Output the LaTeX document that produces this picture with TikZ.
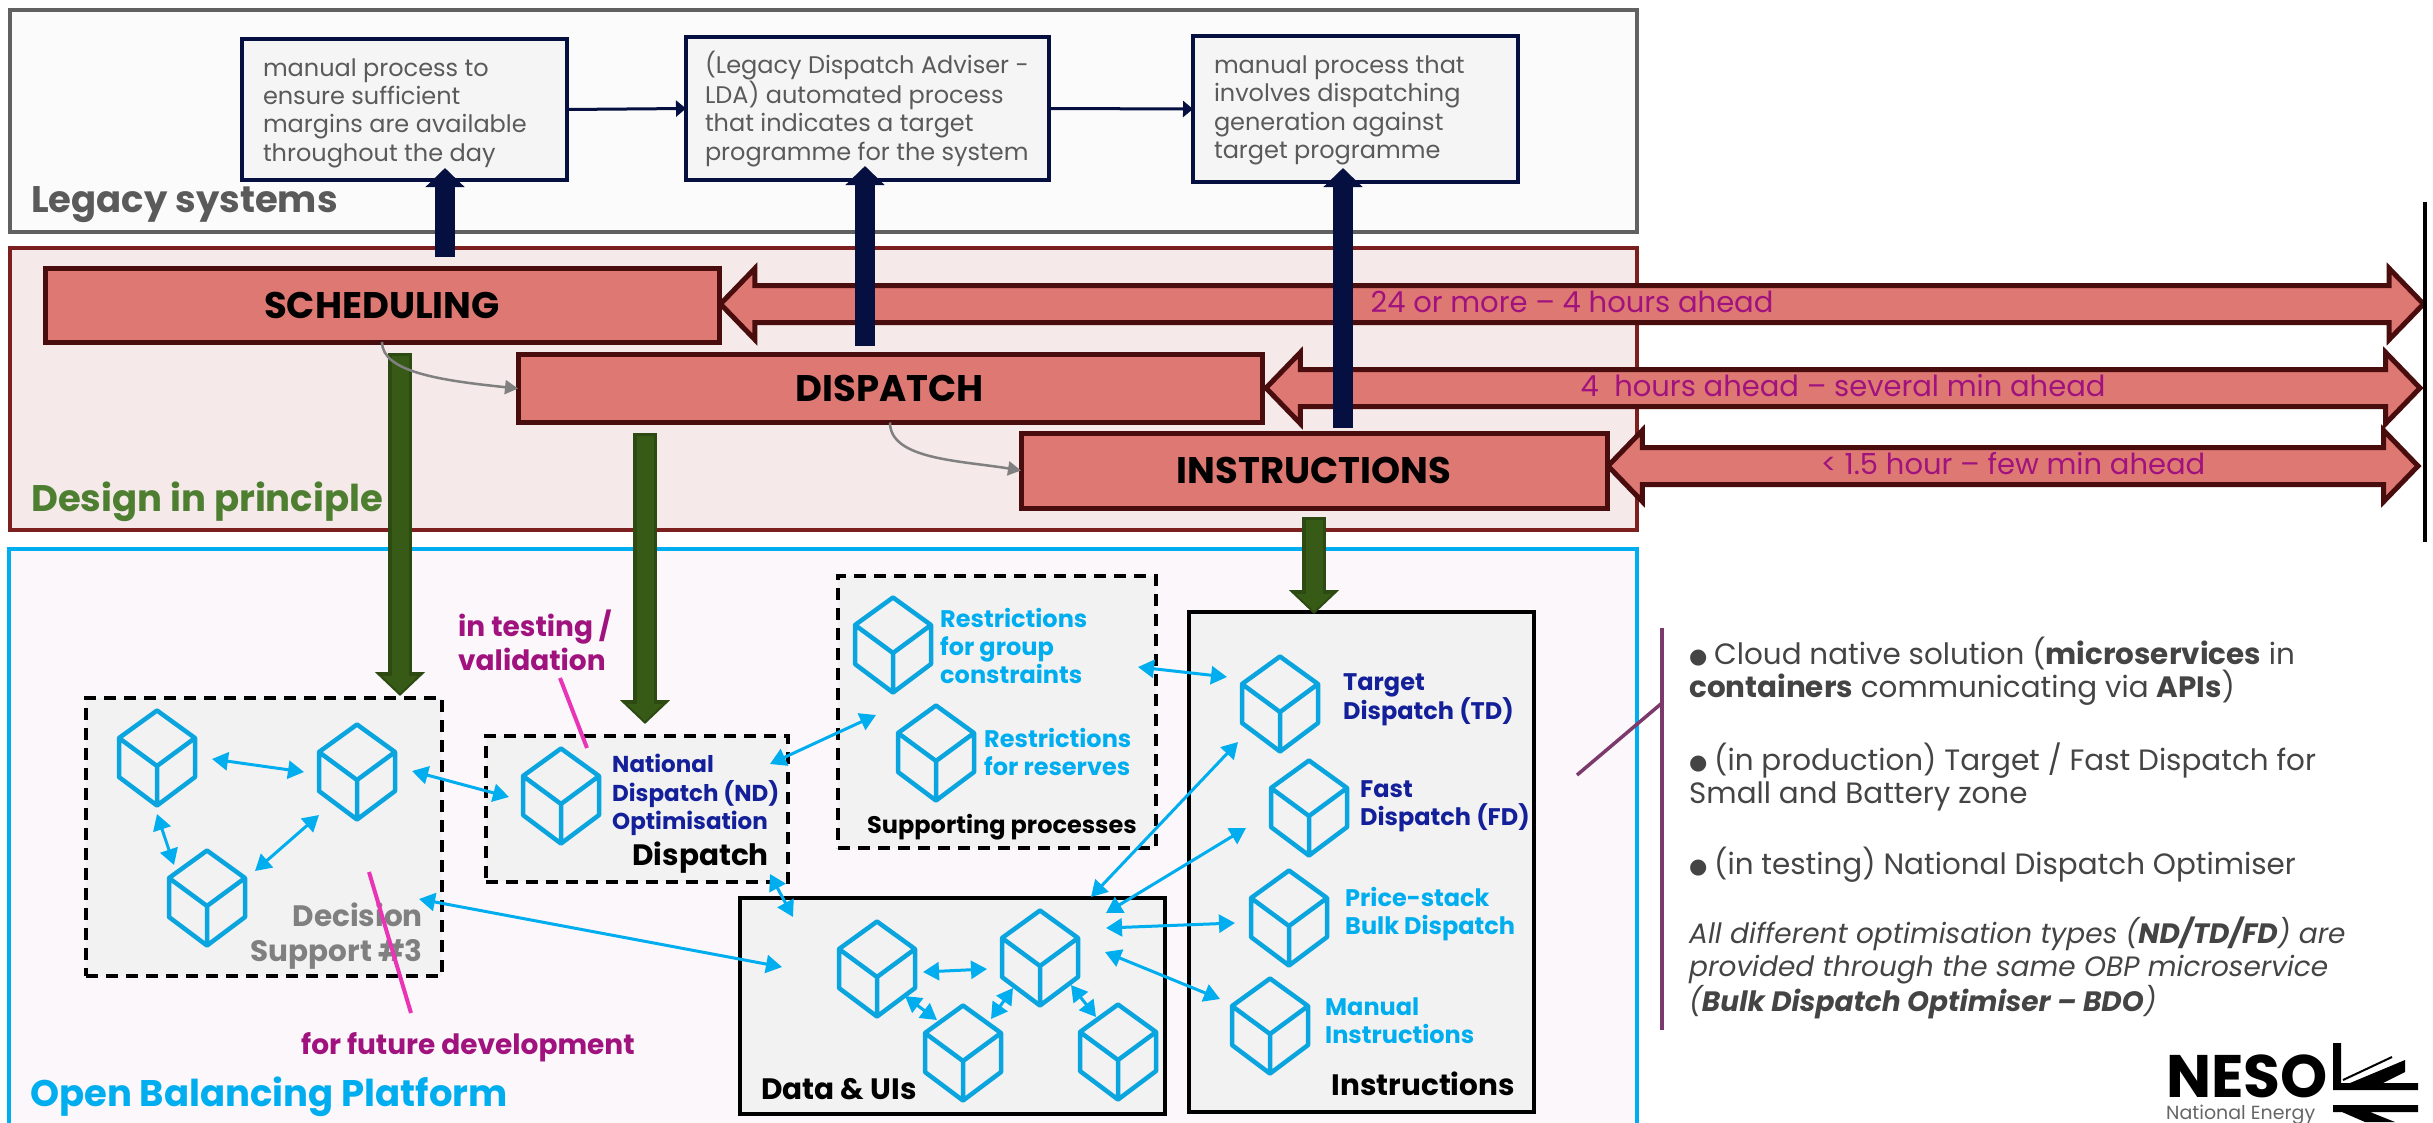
\documentclass[tikz,border=0pt]{standalone}
\usepackage{fontspec}
\setmainfont{Poppins}
\newfontfamily\symfont{DejaVu Sans}
\usetikzlibrary{arrows.meta,shapes.arrows}
\definecolor{navyc}{HTML}{050F40}
\definecolor{greenc}{HTML}{375A16}
\definecolor{greenedge}{HTML}{2C4A12}
\definecolor{redfill}{HTML}{DE7873}
\definecolor{redline}{HTML}{4A0D0D}
\definecolor{framered}{HTML}{7B1F1F}
\definecolor{legacyfill}{HTML}{FBFBFB}
\definecolor{designfill}{HTML}{F5E9E9}
\definecolor{obpfill}{HTML}{FBF7FB}
\definecolor{skyc}{HTML}{00AEEF}
\definecolor{cubec}{HTML}{0AA5DF}
\definecolor{magc}{HTML}{A0127E}
\definecolor{pinkc}{HTML}{E935B5}
\definecolor{deepc}{HTML}{14209A}
\definecolor{plumc}{HTML}{7B3A6B}
\definecolor{textc}{HTML}{444444}
\definecolor{labelc}{HTML}{5A5A5A}
\definecolor{designc}{HTML}{4E7F31}
\newcommand{\dotmark}{\makebox[25pt][l]{\symfont\fontsize{21}{21}\selectfont\raisebox{1pt}{●}}}
\tikzset{
  framebox/.style={draw,line width=4pt,anchor=north west,inner sep=0pt,outer sep=0pt},
  legacybox/.style={draw=navyc,fill=black!4,line width=4pt,anchor=north west,inner sep=0pt,outer sep=0pt,
    text=labelc,align=left,font=\fontsize{24}{28.4}\selectfont},
  planbox/.style={draw=redline,fill=redfill,line width=5pt,inner sep=0pt,outer sep=0pt,
    font=\fontsize{37}{40}\selectfont\bfseries},
  spanarrow/.style={double arrow,draw=redline,fill=redfill,line width=5pt,inner ysep=0pt,inner xsep=0pt,outer sep=0pt,
    minimum width=70pt,double arrow head extend=17pt,double arrow tip angle=92,
    text height=24pt,text depth=8pt,text=magc,font=\fontsize{29}{30}\selectfont},
  groupbox/.style={draw=black,fill=black!5,line width=4.5pt,anchor=north west,inner sep=0pt,outer sep=0pt},
  dashedbox/.style={groupbox,dash pattern=on 12pt off 8pt},
  planflow/.style={draw=navyc,line width=20pt,-{Triangle[length=19pt,width=38pt]}},
  downflow/.style={draw=greenedge,line width=24pt,-{Triangle[length=24pt,width=49pt]},
    postaction={draw=greenc,line width=17pt,-{Triangle[length=17pt,width=35pt]},shorten >=3pt,shorten <=3pt}},
  link/.style={draw=navyc,line width=3pt,-{Triangle[length=10pt,width=16pt]}},
  handoff/.style={draw=black!50,line width=2.5pt,-{Triangle[length=13pt,width=14pt]}},
  apiarrow/.style={draw=skyc,line width=3pt,{Triangle[length=16pt,width=18pt]}-{Triangle[length=16pt,width=18pt]}},
  callout/.style={draw=pinkc,line width=4pt},
  title/.style={anchor=west,inner sep=0pt,font=\fontsize{37}{40}\selectfont\bfseries},
  svc/.style={anchor=west,align=left,inner sep=0pt,font=\fontsize{24}{28.4}\selectfont\bfseries},
  group/.style={inner sep=0pt,font=\fontsize{29.5}{34.5}\selectfont\bfseries},
  remark/.style={inner sep=0pt,anchor=west,align=left,text=magc,font=\fontsize{28}{34}\selectfont\bfseries},
  note/.style={anchor=west,align=left,inner sep=0pt,text=textc,font=\fontsize{29.4}{33}\selectfont},
  cube/.pic={
    \draw[draw=cubec,line width=4.5pt,line join=round]
      (0,-47.5) -- (38,-20) -- (38,19) -- (0,47.5) -- (-38,19) -- (-38,-20) -- cycle
      (-38,-20) -- (0,8) -- (38,-20) (0,8) -- (0,47.5);
  }
}
\begin{document}
\begin{tikzpicture}[x=1pt,y=-1pt]
  \useasboundingbox (0,0) rectangle (2433,1122);

  % frames
  \node[framebox,draw=black!62,fill=legacyfill,minimum width=1627pt,minimum height=222pt] (legacy) at (10,10) {};
  \node[framebox,draw=framered,fill=designfill,minimum width=1627pt,minimum height=282pt] (design) at (10,248) {};
  \node[framebox,draw=skyc,fill=obpfill,minimum width=1628pt,minimum height=600pt] (obp) at (9,549) {};
  \node[title,text=labelc] (legacyname) at (31,205) {Legacy systems};
  \node[title,text=designc] (designname) at (31,502) {Design in principle};
  \node[title,text=skyc] (obpname) at (30,1097) {Open Balancing Platform};

  % legacy process boxes
  \node[legacybox,minimum width=325pt,minimum height=141pt] (manual) at (242,39) {};
  \node[legacybox,minimum width=363pt,minimum height=143pt] (lda) at (686,37) {};
  \node[legacybox,minimum width=325pt,minimum height=146pt] (target) at (1193,36) {};
  \node[legacybox,draw=none,fill=none,anchor=west] (manualtxt) at (263,113) {manual process to\\ensure sufficient\\margins are available\\throughout the day};
  \node[legacybox,draw=none,fill=none,anchor=west] (ldatxt) at (705,109) {(Legacy Dispatch Adviser -\\LDA) automated process\\that indicates a target\\programme for the system};
  \node[legacybox,draw=none,fill=none,anchor=west] (targettxt) at (1214,110.5) {manual process that\\involves dispatching\\generation against\\target programme};
  \draw[link] (manual.east) -- (lda.west);
  \draw[link] (lda.east) -- (target.west);

  % time spans
  \node[spanarrow,minimum height=1703pt] (span1) at (1572,304) {24 or more -- 4 hours ahead};
  \node[spanarrow,minimum height=1154pt] (span2) at (1843,388) {4\ \ hours ahead -- several min ahead};
  \node[spanarrow,minimum height=810pt] (span3) at (2013,466) {< 1.5 hour -- few min ahead};
  \node[planbox,minimum width=674pt,minimum height=74pt] (scheduling) at (382,305) {SCHEDULING};
  \node[planbox,minimum width=744pt,minimum height=68pt] (dispatch) at (890,388.5) {DISPATCH};
  \node[planbox,minimum width=586pt,minimum height=75pt] (instructions) at (1314,470.5) {INSTRUCTIONS};
  \draw[draw=black,line width=4pt] (2425,202) coordinate (rulea) -- (2425,542) coordinate (ruleb);

  % groups
  \node[dashedbox,minimum width=356pt,minimum height=278pt] (decision) at (86,698) {};
  \node[dashedbox,minimum width=302pt,minimum height=146pt] (optim) at (486,736) {};
  \node[dashedbox,minimum width=318pt,minimum height=272pt] (support) at (838,576) {};
  \node[groupbox,minimum width=425pt,minimum height=216pt] (data) at (740,898) {};
  \node[groupbox,minimum width=345pt,minimum height=500pt] (instr) at (1189,612) {};

  % flows between the layers
  \foreach \name/\x/\ya/\yb in {upa/445/257/168,upb/865/346/166,upc/1343/428/168} {
    \coordinate (\name s) at (\x,\ya);
    \coordinate (\name e) at (\x,\yb);
    \draw[planflow] (\name s) -- (\name e);
  }
  \foreach \name/\x/\ya/\yb in {downa/400/353/696,downb/645/433/724,downc/1314/517/614} {
    \coordinate (\name s) at (\x,\ya);
    \coordinate (\name e) at (\x,\yb);
    \draw[downflow] (\name s) -- (\name e);
  }
  \draw[handoff] (scheduling.south) .. controls +(0,30) and +(-77,-8) .. (dispatch.west);
  \draw[handoff] (dispatch.south) .. controls +(0,37) and +(-61,-10) .. (instructions.west);

  % cubes
  \foreach \x/\y in {157/758,357/772,207/898,561/796,893/645,936/753,1280/704,1309/808,1289/918,1270/1026,877/969,1040/958,963/1053,1118/1052}
    \pic at (\x,\y) {cube};

  % api links
  \foreach \name/\xa/\ya/\xb/\yb in {
    aa/212/759/304/772,ab/157/814/174/865,ac/255/871/319/815,ad/412/771/509/797,
    ae/419/899/782/967,af/770/874/793/917,ag/770/764/876/715,ah/1138/667/1227/677,
    ai/1091/897/1238/742,aj/1106/913/1246/828,ak/1106/928/1235/923,al/1105/952/1220/999,
    am/923/972/987/969,an/905/996/937/1020,ao/991/1019/1013/988,ap/1071/985/1096/1017} {
    \coordinate (\name s) at (\xa,\ya);
    \coordinate (\name e) at (\xb,\yb);
    \draw[apiarrow] (\name s) -- (\name e);
  }

  % service labels
  \node[svc,text=deepc,font=\fontsize{23}{28.4}\selectfont\bfseries] (nd) at (612,795) {National\\Dispatch (ND)\\Optimisation};
  \node[svc,text=skyc] (groupc) at (940,646) {Restrictions\\for group\\constraints};
  \node[svc,text=skyc] (reserve) at (984,752) {Restrictions\\for reserves};
  \node[svc,text=deepc] (td) at (1343,700) {Target\\Dispatch (TD)};
  \node[svc,text=deepc] (fd) at (1360,806) {Fast\\Dispatch (FD)};
  \node[svc,text=skyc] (bulk) at (1345,914) {Price-stack\\Bulk Dispatch};
  \node[svc,text=skyc] (mi) at (1325,1021) {Manual\\Instructions};

  % group names
  \node[group,align=right,anchor=east,text=black!50] (dsname) at (423,936) {Decision\\Support \#3};
  \node[group,anchor=east] (dispname) at (769,858) {Dispatch};
  \node[group,anchor=west,font=\fontsize{24}{28}\selectfont\bfseries] (supname) at (867,827) {Supporting processes};
  \node[group,anchor=west] (dataname) at (761,1089) {Data \& UIs};
  \node[group,anchor=east] (instrname) at (1515,1084) {Instructions};

  % status remarks
  \node[remark] (testing) at (458,640) {in testing /\\validation};
  \node[remark] (future) at (301,1047) {for future development};
  \coordinate (testa) at (560,678);
  \coordinate (testb) at (587,748);
  \coordinate (futa) at (369,872);
  \coordinate (futb) at (411,1013);
  \draw[callout] (testa) -- (testb);
  \draw[callout] (futa) -- (futb);

  % side notes
  \coordinate (sidea) at (1662,628);
  \coordinate (sideb) at (1662,1030);
  \coordinate (sidec) at (1662,703);
  \coordinate (sided) at (1577,775);
  \draw[draw=plumc,line width=3.5pt] (sidea) -- (sideb);
  \draw[draw=plumc,line width=3.5pt] (sidec) -- (sided);
  \node[note] (notea) at (1689,671) {\dotmark Cloud native solution (\textbf{microservices} in\\\textbf{containers} communicating via \textbf{APIs})};
  \node[note] (noteb) at (1689,777) {\dotmark (in production) Target / Fast Dispatch for\\Small and Battery zone};
  \node[note] (notec) at (1689,865) {\dotmark (in testing) National Dispatch Optimiser};
  \node[note,font=\fontsize{28}{33}\selectfont\itshape] (noted) at (1689,968) {All different optimisation types (\textbf{ND/TD/FD}) are\\provided through the same OBP microservice\\(\textbf{Bulk Dispatch Optimiser -- BDO})};

  % logo
  \node[anchor=west,inner sep=0pt,font=\fontsize{60}{60}\selectfont\bfseries] (neso) at (2166,1076) {NESO};
  \node[anchor=west,inner sep=0pt,text=black!60,font=\fontsize{19}{20}\selectfont] (nesoname) at (2166,1115) {National Energy};
  \fill (2333,1043) -- (2341,1043) -- (2341,1083) -- (2418,1083) -- (2418,1090) -- (2333,1090) -- cycle;
  \fill (2350,1083) -- (2405,1060) -- (2405,1072) -- (2383,1083) -- cycle;
  \draw[line width=2pt] (2343,1080) -- (2392,1057);
  \fill (2333,1105) -- (2418,1105) -- (2418,1112) -- (2370,1112) -- (2395,1122) -- (2365,1122) -- (2342,1112) -- (2333,1112) -- cycle;
\end{tikzpicture}
\end{document}
